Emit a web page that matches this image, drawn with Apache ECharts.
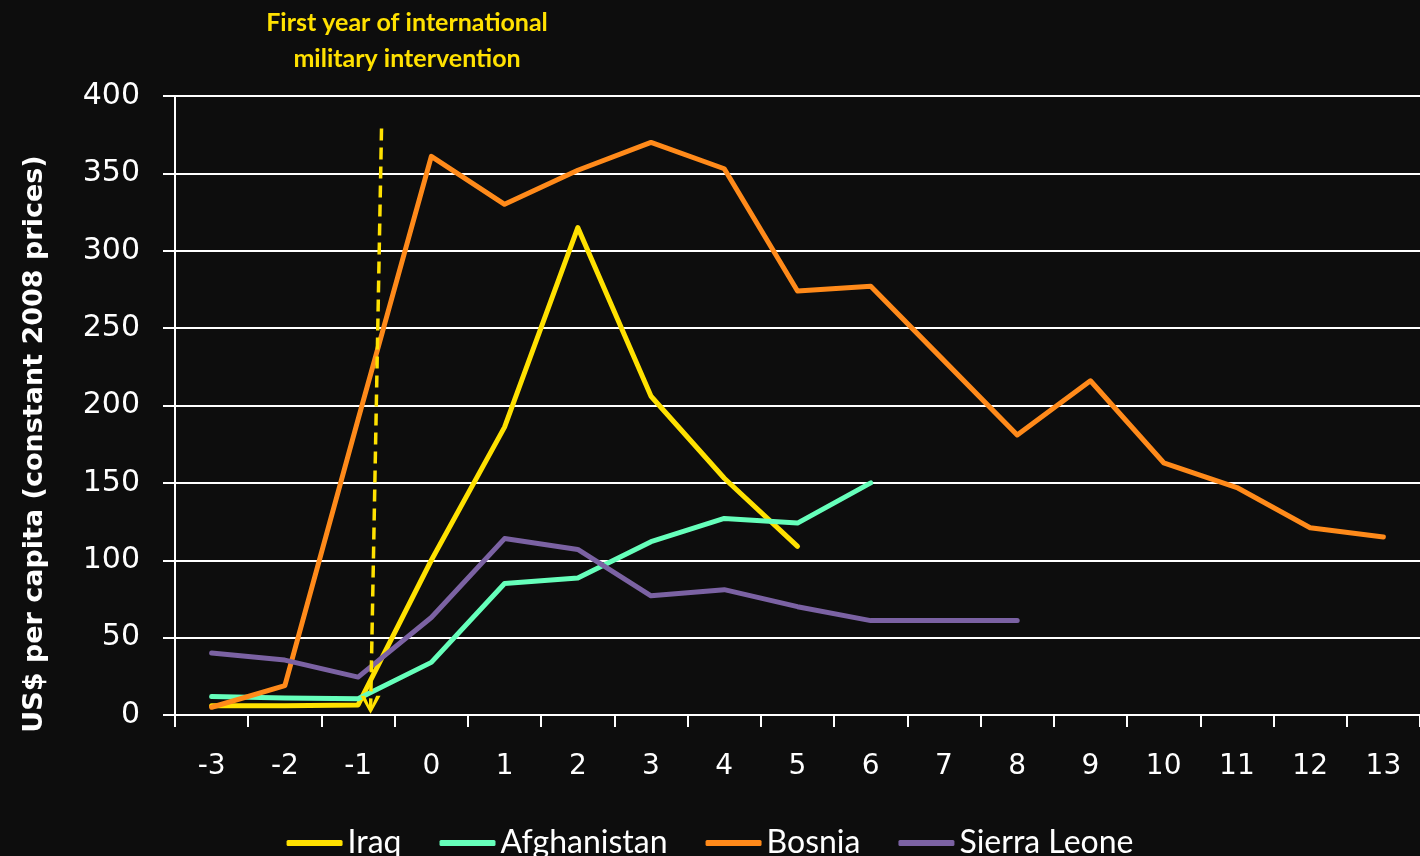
<!DOCTYPE html>
<html>
<head>
<meta charset="utf-8">
<style>
  html, body { margin: 0; padding: 0; background: #0d0d0d; }
  #chart { width: 1420px; height: 856px; }
</style>
<script src="https://cdn.jsdelivr.net/npm/echarts@6/dist/echarts.min.js"></script>
</head>
<body>
<div id="chart"></div>
<script>
// ---- data ----
var categories = ['-3','-2','-1','0','1','2','3','4','5','6','7','8','9','10','11','12','13'];
var iraq        = [6, 6, 6.5, 100, 186, 315, 206, 153, 109];
var afghanistan = [12, 11, 10.5, 34, 85, 88.5, 112, 127, 124, 150];
var bosnia      = [5, 19, 191, 361, 330, 352, 370, 353, 274, 277, 229, 181, 216, 163, 147, 121, 115];
var sierraLeone = [40, 35.5, 24.5, 63, 114, 107, 77, 81, 70, 61, 61, 61];
var yTicks = { min: 0, max: 400, interval: 50 };
// annotation: dashed arrow marking first year of intervention (x in year units, y in US$)
var interventionTop    = [-0.68, 379];
var interventionBottom = [-0.83, 1.5];
var annotationText = 'First year of international\nmilitary intervention';
var yAxisTitle = 'US$ per capita (constant 2008 prices)';

var colors = { iraq: '#ffe100', afghanistan: '#66ffbb', bosnia: '#ff8a1a', sierra: '#7b62a3' };

var chart = echarts.init(document.getElementById('chart'), null, { renderer: 'canvas' });

function lineSeries(name, data, color) {
  return {
    name: name, type: 'line', data: data, showSymbol: false, symbol: 'none',
    xAxisIndex: 0, yAxisIndex: 0,
    lineStyle: { color: color, width: 5, cap: 'round', join: 'round' },
    itemStyle: { color: color },
    animation: false
  };
}

var option = {
  backgroundColor: '#0d0d0d',
  animation: false,
  grid: { left: 175, right: -8, top: 96, bottom: 141, containLabel: false },
  xAxis: [{
    type: 'category',
    data: categories,
    boundaryGap: true,
    axisLine: { show: true, onZero: false, lineStyle: { color: '#ffffff', width: 2 } },
    axisTick: { show: true, interval: 0, length: 12, lineStyle: { color: '#ffffff', width: 2 } },
    axisLabel: { color: '#ffffff', fontSize: 28, fontFamily: 'DejaVu Sans', margin: 38, interval: 0 },
    splitLine: { show: false }
  }, {
    type: 'value', show: false, min: -3.5, max: 13.5,
    axisLine: { show: false }, splitLine: { show: false }
  }],
  yAxis: {
    type: 'value',
    min: yTicks.min, max: yTicks.max, interval: yTicks.interval,
    axisLine: { show: true, onZero: false, lineStyle: { color: '#ffffff', width: 2 } },
    axisTick: { show: true, length: 12, lineStyle: { color: '#ffffff', width: 2 } },
    axisLabel: { color: '#ffffff', fontSize: 30, fontFamily: 'DejaVu Sans', margin: 35 },
    splitLine: { show: true, lineStyle: { color: '#ffffff', width: 2 } }
  },
  legend: {
    data: ['Iraq', 'Afghanistan', 'Bosnia', 'Sierra Leone'],
    left: 'center',
    top: 822,
    itemWidth: 56,
    itemHeight: 6,
    itemGap: 38,
    icon: 'roundRect',
    textStyle: { color: '#ffffff', fontSize: 32, fontFamily: 'Lato' }
  },
  graphic: [{
    type: 'text',
    left: 407 - 160, top: 5,
    style: {
      text: annotationText,
      fill: '#ffe100',
      font: 'bold 25px Lato, sans-serif',
      textAlign: 'center',
      lineHeight: 36,
      width: 320
    }
  }, {
    type: 'text',
    rotation: Math.PI / 2,
    x: 35, y: 444,
    style: {
      text: yAxisTitle,
      fill: '#ffffff',
      font: 'bold 27px "DejaVu Sans"',
      textAlign: 'center',
      textVerticalAlign: 'middle'
    }
  }],
  series: [
    lineSeries('Iraq', iraq, colors.iraq),
    lineSeries('Afghanistan', afghanistan, colors.afghanistan),
    lineSeries('Bosnia', bosnia, colors.bosnia),
    lineSeries('Sierra Leone', sierraLeone, colors.sierra),
    {
      name: 'intervention', type: 'line', xAxisIndex: 1, yAxisIndex: 0,
      data: [
        { value: interventionTop, symbol: 'none' },
        { value: interventionBottom, symbol: 'path://M0,0 L2.2,0 L5,7.2 L7.8,0 L10,0 L5,10 Z', symbolSize: [20, 18], symbolOffset: [0, -8] }
      ],
      showSymbol: true,
      lineStyle: { color: colors.iraq, width: 3.5, type: [12, 7] },
      itemStyle: { color: colors.iraq },
      silent: true,
      animation: false
    }
  ]
};
chart.setOption(option);
</script>
</body>
</html>
